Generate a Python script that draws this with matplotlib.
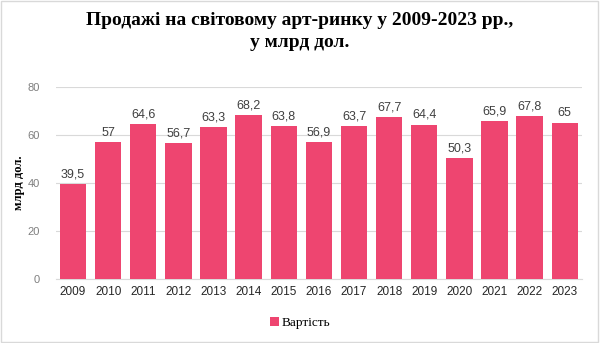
import matplotlib
matplotlib.use("Agg")
import matplotlib.pyplot as plt
from matplotlib.patches import Rectangle

years = ["2009", "2010", "2011", "2012", "2013", "2014", "2015", "2016",
         "2017", "2018", "2019", "2020", "2021", "2022", "2023"]
values = [39.5, 57, 64.6, 56.7, 63.3, 68.2, 63.8, 56.9, 63.7, 67.7, 64.4, 50.3, 65.9, 67.8, 65]
value_labels = ["39,5", "57", "64,6", "56,7", "63,3", "68,2", "63,8", "56,9",
                "63,7", "67,7", "64,4", "50,3", "65,9", "67,8", "65"]
yticks = [0, 20, 40, 60, 80]
title = "Продажі на світовому арт-ринку у 2009-2023 рр.,\nу млрд дол."
ylabel = "млрд дол."
series_name = "Вартість"

color = "#EE4570"

fig = plt.figure(figsize=(6.0, 3.43), dpi=100)
fig.patches.append(Rectangle((0.002, 0.003), 0.995, 0.993, transform=fig.transFigure,
                             fill=False, edgecolor="#D9D9D9", linewidth=1.0))
ax = fig.add_axes([0.0925, 0.187, 0.878, 0.559])

x = range(len(years))
bars = ax.bar(x, values, width=0.75, color=color, label=series_name, zorder=3)
for xi, v, lab in zip(x, values, value_labels):
    ax.text(xi, v + 1.5, lab, ha="center", va="bottom", fontsize=9,
            family="Liberation Sans", color="#404040")

ax.set_ylim(0, 80)
ax.set_xlim(-0.5, len(years) - 0.5)
ax.set_yticks(yticks)
ax.set_yticklabels([str(t) for t in yticks], fontsize=8, family="Liberation Sans", color="#7F7F7F")
ax.set_xticks(list(x))
ax.set_xticklabels(years, fontsize=8.5, family="Liberation Sans", color="#262626")
ax.tick_params(axis="both", length=0)
ax.tick_params(axis="y", pad=11)
ax.tick_params(axis="x", pad=5)
ax.grid(axis="y", color="#D9D9D9", linewidth=0.8, zorder=0)
for s in ["top", "right", "left"]:
    ax.spines[s].set_visible(False)
ax.spines["bottom"].set_color("#D9D9D9")

ax.set_ylabel(ylabel, fontsize=9, family="Liberation Serif", fontweight="bold",
              color="#000000", labelpad=2)

fig.text(0.5, 0.965, title, ha="center", va="top", fontsize=14, fontweight="bold",
         family="Liberation Serif", linespacing=1.35)

fig.legend(handles=[bars], labels=[series_name], loc="center", bbox_to_anchor=(0.5, 0.058),
           frameon=False, prop={"family": "Liberation Serif", "size": 9.5},
           handlelength=0.7, handleheight=0.7, handletextpad=0.2)

fig.savefig("out.png", dpi=100)
